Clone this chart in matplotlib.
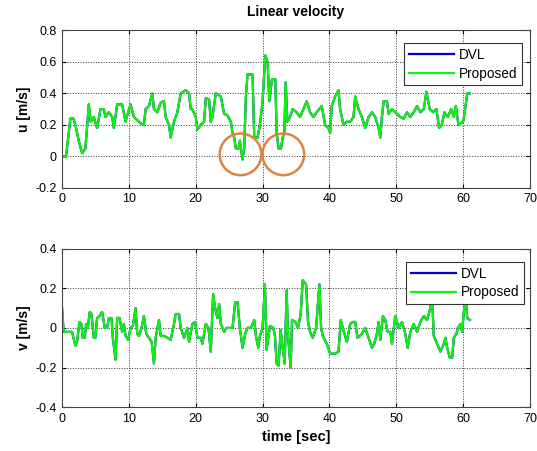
import numpy as np
import matplotlib
matplotlib.use('Agg')
import matplotlib.pyplot as plt

plt.rcParams['font.family'] = ['Liberation Sans', 'DejaVu Sans']

# top panel: forward velocity u
t_u = [0, 0.6, 1.0, 1.25, 1.7, 2.0, 2.5, 3.0, 3.5, 4.0, 4.3, 4.75, 5.25, 5.75, 6.25, 6.5,
       7.0, 7.5, 7.75, 8.25, 9.0, 9.5, 9.75, 10.25, 10.75, 11.25, 11.75, 12.25, 12.5, 13.0,
       13.5, 13.75, 14.25, 14.75, 15.25, 15.5, 16.0, 16.25, 16.75, 17.25, 17.75, 18.5, 19.0,
       19.25, 19.5, 20.0, 20.25, 20.75, 21.25, 21.5, 22.0, 22.25, 22.5, 23.0, 23.75, 24.25,
       24.75, 25.25, 25.5, 25.75, 26.0, 26.4, 26.6, 27.0, 27.25, 27.5, 27.75, 28.5, 28.75,
       29.25, 29.6, 30.0, 30.4, 30.75, 31.0, 31.4, 31.9, 32.1, 32.4, 32.75, 33.0, 33.25,
       33.45, 33.7, 34.0, 34.5, 35.1, 35.6, 36.1, 36.6, 37.1, 37.6, 38.1, 38.85, 39.35,
       39.85, 40.1, 40.35, 40.85, 41.35, 41.6, 42.1, 42.6, 43.1, 43.6, 43.85, 44.35, 44.85,
       45.35, 45.85, 46.35, 46.85, 47.35, 47.6, 47.85, 48.1, 48.6, 48.85, 49.35, 49.85,
       50.6, 51.1, 51.6, 52.1, 52.6, 53.1, 53.6, 54.1, 54.5, 55.0, 55.5, 56.0, 56.4, 56.8,
       57.2, 57.7, 58.2, 58.6, 58.9, 59.3, 60.0, 60.3, 60.6, 61.0]
u_prop = [0.0, 0.0, 0.15, 0.24, 0.24, 0.2, 0.1, 0.02, 0.05, 0.33, 0.22, 0.25, 0.18, 0.3, 0.3, 0.25,
          0.28, 0.25, 0.18, 0.33, 0.33, 0.22, 0.26, 0.33, 0.25, 0.23, 0.21, 0.2, 0.3, 0.32,
          0.4, 0.3, 0.28, 0.34, 0.35, 0.25, 0.2, 0.12, 0.22, 0.28, 0.4, 0.42, 0.4,
          0.3, 0.3, 0.25, 0.17, 0.2, 0.22, 0.37, 0.36, 0.22, 0.25, 0.4, 0.38, 0.27,
          0.26, 0.22, 0.15, 0.12, 0.05, 0.05, 0.1, -0.02, 0.05, 0.38, 0.52, 0.52, 0.12,
          0.12, 0.2, 0.35, 0.64, 0.6, 0.35, 0.49, 0.49, 0.15, 0.05, 0.05, 0.12, 0.14,
          0.47, 0.22, 0.24, 0.3, 0.28, 0.25, 0.3, 0.35, 0.28, 0.25, 0.28, 0.32, 0.2,
          0.18, 0.15, 0.32, 0.38, 0.42, 0.3, 0.2, 0.22, 0.22, 0.25, 0.38, 0.3, 0.25,
          0.18, 0.25, 0.28, 0.25, 0.18, 0.12, 0.25, 0.35, 0.35, 0.27, 0.3, 0.28,
          0.25, 0.24, 0.28, 0.25, 0.28, 0.32, 0.28, 0.3, 0.41, 0.3, 0.28, 0.3, 0.18, 0.2,
          0.28, 0.25, 0.3, 0.25, 0.32, 0.2, 0.22, 0.3, 0.4, 0.4]
u_dvl = list(u_prop)

# bottom panel: lateral velocity v
t_v = [0, 0.25, 1.5, 2.0, 2.25, 2.6, 2.9, 3.1, 3.4, 3.6, 3.85, 4.15, 4.4, 4.75, 5.0, 5.25, 5.6,
       6.0, 6.4, 6.75, 7.0, 7.4, 7.6, 8.0, 8.25, 8.6, 9.0, 9.25, 9.5, 9.9, 10.25, 10.6, 11.0,
       11.25, 11.5, 11.9, 12.25, 12.6, 13.0, 13.4, 13.75, 14.0, 14.5, 14.75, 15.25, 15.75,
       16.25, 16.75, 17.0, 17.5, 17.75, 18.25, 18.75, 19.0, 19.5, 19.9, 20.25, 20.75, 21.0,
       21.5, 21.9, 22.25, 22.6, 22.9, 23.25, 23.5, 23.75, 24.25, 24.6, 25.5, 25.9, 26.25,
       26.6, 27.0, 27.4, 27.75, 28.25, 28.75, 29.0, 29.35, 29.6, 30.0, 30.35, 30.6, 31.1,
       31.6, 31.85, 32.1, 32.4, 32.7, 33.0, 33.3, 33.6, 33.8, 34.2, 34.4, 34.9, 35.3, 35.7,
       36.0, 36.5, 36.8, 37.1, 37.5, 38.0, 38.5, 38.75, 39.0, 39.6, 40.1, 40.85, 41.35, 41.7,
       42.0, 42.6, 43.1, 43.5, 43.85, 44.2, 44.85, 45.35, 45.85, 46.35, 46.7, 47.1, 47.35,
       47.6, 48.0, 48.35, 48.7, 49.1, 49.35, 49.85, 50.35, 50.85, 51.35, 51.7, 52.1, 52.6,
       53.1, 53.6, 54.1, 54.6, 55.1, 55.35, 55.6, 56.1, 56.6, 57.1, 57.35, 57.6, 58.0, 58.35,
       58.6, 59.0, 59.2, 59.6, 59.85, 60.1, 60.35, 60.6, 61.0]
v_prop = [0.1, -0.02, -0.02, -0.09, -0.07, 0.03, 0.02, -0.05, -0.05, 0.02, 0.0, 0.08, 0.07, -0.05, -0.05, 0.05, 0.06,
          0.08, 0.0, 0.0, 0.05, 0.05, -0.05, -0.16, 0.05, 0.05, -0.02, 0.02, -0.04, -0.06, 0.0, 0.01, 0.1,
          -0.03, -0.04, 0.0, 0.06, -0.03, -0.05, -0.07, -0.18, -0.05, 0.04, -0.04, -0.04, -0.05,
          -0.06, 0.02, 0.07, 0.07, 0.0, -0.05, 0.0, -0.07, 0.02, 0.03, -0.05, -0.05, -0.08,
          0.02, 0.0, -0.12, 0.17, 0.1, 0.05, 0.12, 0.02, -0.02, 0.0, 0.0, 0.13, 0.13,
          0.0, -0.1, -0.03, 0.0, 0.0, 0.04, -0.04, -0.1, -0.04, 0.0, 0.22, -0.11, 0.01,
          0.0, -0.04, -0.18, -0.19, -0.01, -0.1, -0.18, 0.19, -0.04, -0.2, 0.04, 0.03, 0.0, 0.07,
          0.24, 0.22, 0.03, -0.02, -0.05, 0.0, 0.22, 0.0, -0.04, -0.08, -0.13, -0.13, -0.12, 0.04,
          0.0, -0.07, 0.02, 0.03, 0.03, -0.05, -0.03, 0.0, -0.05, -0.1, -0.08, -0.03, 0.03,
          -0.06, 0.06, 0.04, -0.02, -0.02, -0.08, 0.06, 0.0, 0.03, -0.03, -0.1, -0.02, 0.02,
          -0.02, 0.03, 0.06, 0.04, 0.1, 0.16, -0.04, -0.08, -0.12, -0.08, -0.05, -0.1, -0.15, -0.15,
          -0.05, -0.03, 0.0, 0.02, -0.02, 0.08, 0.18, 0.05, 0.04]
v_dvl = list(v_prop)

# highlighted regions in the u panel (time, value)
circle_t = [26.7, 33.1]
circle_u = [0.013, 0.013]

fig = plt.figure(figsize=(5.37, 4.51), dpi=100)
ax1 = fig.add_axes([0.1155, 0.5833, 0.8715, 0.3495])
ax2 = fig.add_axes([0.1155, 0.0970, 0.8715, 0.3519])

panels = [
    (ax1, t_u, u_dvl, u_prop, (-0.2, 0.8), np.arange(-0.2, 0.81, 0.2), 'u [m/s]', (0.983, 0.919)),
    (ax2, t_v, v_dvl, v_prop, (-0.4, 0.4), np.arange(-0.4, 0.41, 0.2), 'v [m/s]', (0.987, 0.916)),
]
for ax, t, dvl, prop, ylim, yt, ylab, anchor in panels:
    ax.plot(t, dvl, color='#0000c8', lw=1.6, label='DVL')
    ax.plot(t, prop, color='#11f011', lw=1.6, label='Proposed')
    ax.set_xlim(0, 70)
    ax.set_ylim(*ylim)
    ax.set_xticks(range(0, 71, 10))
    ax.set_yticks(yt)
    ax.set_yticklabels(['%g' % round(y, 1) for y in yt])
    ax.grid(True, color='#333333', linestyle=':', linewidth=0.7)
    ax.tick_params(direction='in', top=True, right=True, labelsize=9, length=3, pad=4)
    for s in ax.spines.values():
        s.set_color('#444444')
        s.set_linewidth(0.8)
    ax.set_ylabel(ylab, fontsize=10, fontweight='bold', labelpad=3)
    leg = ax.legend(loc='upper right', bbox_to_anchor=anchor, borderaxespad=0,
                    fontsize=9.8, handlelength=3.3, handletextpad=0.35, fancybox=False,
                    framealpha=1, edgecolor='#333333', borderpad=0.35, labelspacing=0.35)
    leg.get_frame().set_linewidth(0.8)

ax1.set_title('Linear velocity', fontsize=10, fontweight='bold', pad=10)
ax1.scatter(circle_t, circle_u, s=900, facecolors='none', edgecolors='#e0833f',
            linewidths=1.8, zorder=5)
ax2.set_xlabel('time [sec]', fontsize=10.5, fontweight='bold', labelpad=4)

fig.savefig('out.png', dpi=100)
